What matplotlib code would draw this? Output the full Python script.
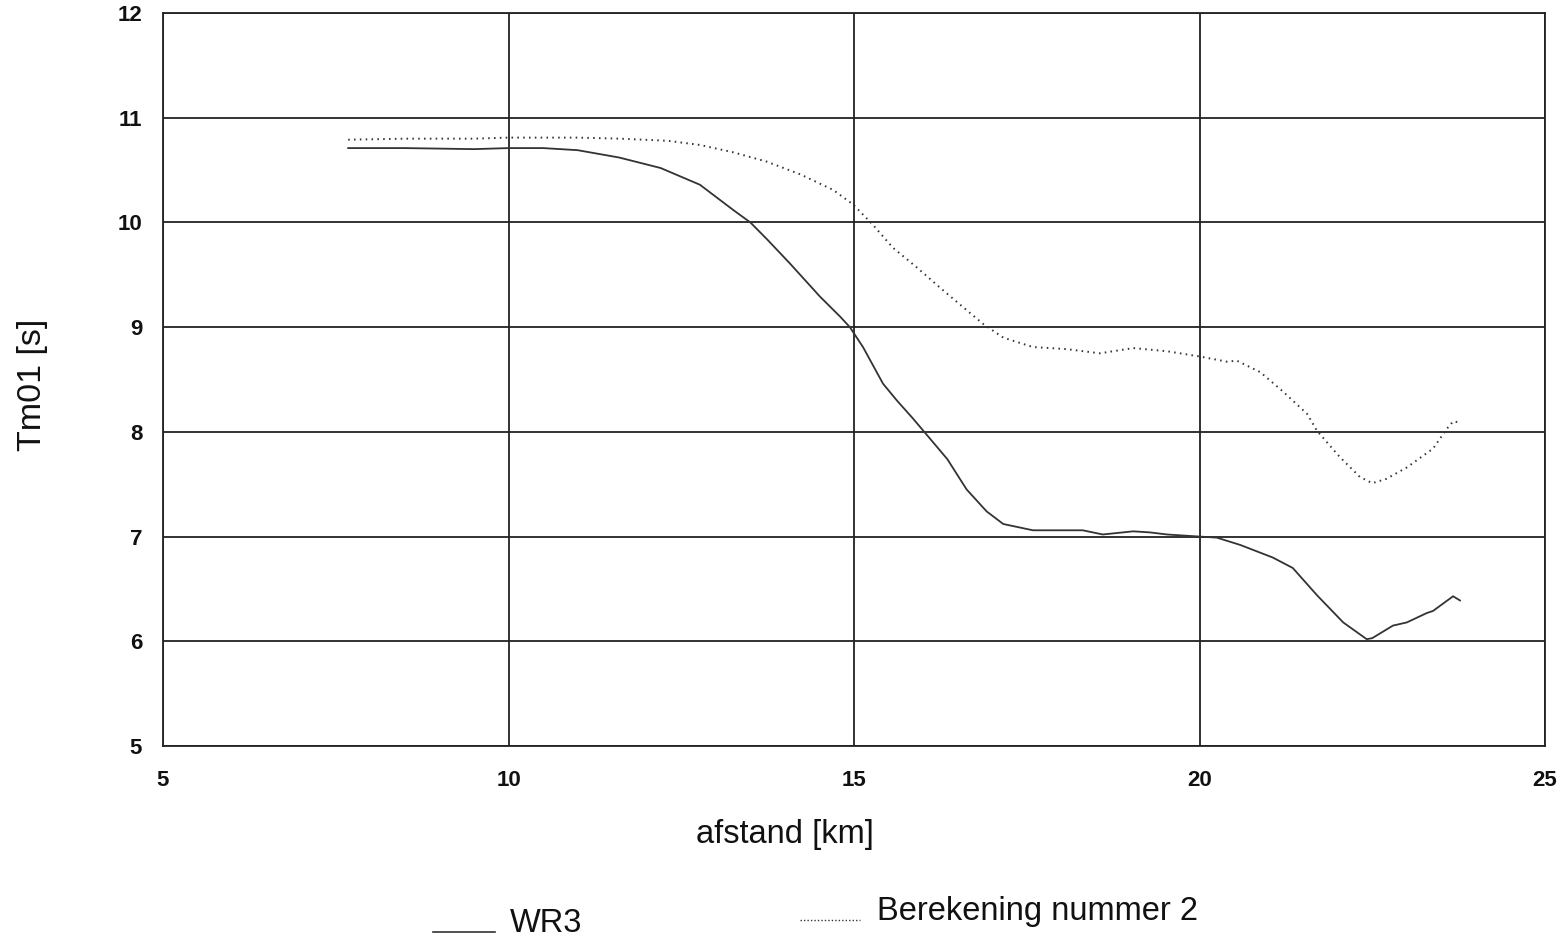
import matplotlib
matplotlib.use("Agg")
import matplotlib.pyplot as plt
from matplotlib.lines import Line2D

plt.rcParams['font.family'] = ['Liberation Sans', 'DejaVu Sans']

# Wave period Tm01 along the transect
x_wr3 = [7.68, 8.5, 9.5, 10.0, 10.5, 11.0, 11.6, 12.2, 12.77, 13.25, 13.5,
         13.74, 14.07, 14.51, 14.8, 14.94, 15.13, 15.42, 15.62, 15.85, 16.35,
         16.63, 16.92, 17.16, 17.59, 18.08, 18.31, 18.6, 19.04, 19.28, 19.53,
         20.0, 20.25, 20.59, 21.06, 21.35, 21.7, 22.08, 22.42, 22.5, 22.8, 23.0,
         23.29, 23.38, 23.67, 23.77]
y_wr3 = [10.71, 10.71, 10.70, 10.71, 10.71, 10.69, 10.62, 10.52, 10.36, 10.12,
         10.00, 9.84, 9.61, 9.29, 9.10, 9.00, 8.81, 8.46, 8.30, 8.13, 7.74, 7.45,
         7.24, 7.12, 7.06, 7.06, 7.06, 7.02, 7.05, 7.04, 7.02, 7.00, 6.99, 6.92,
         6.80, 6.70, 6.44, 6.18, 6.02, 6.03, 6.15, 6.18, 6.27, 6.29, 6.43, 6.39]

x_ber2 = [7.68, 8.5, 9.5, 10.0, 11.0, 11.6, 12.3, 12.77, 13.25, 13.74, 14.22,
          14.7, 14.99, 15.27, 15.56, 15.91, 16.24, 16.58, 16.87, 17.16, 17.59,
          18.08, 18.56, 19.04, 19.53, 20.0, 20.4, 20.54, 20.88, 21.2, 21.56,
          21.7, 22.03, 22.32, 22.5, 22.7, 23.0, 23.38, 23.58, 23.67, 23.77]
y_ber2 = [10.79, 10.80, 10.80, 10.81, 10.81, 10.80, 10.78, 10.74, 10.67, 10.58,
          10.46, 10.31, 10.17, 9.98, 9.76, 9.57, 9.38, 9.19, 9.03, 8.90, 8.81,
          8.79, 8.75, 8.80, 8.77, 8.72, 8.67, 8.68, 8.57, 8.39, 8.17, 8.01, 7.76,
          7.57, 7.51, 7.55, 7.66, 7.84, 8.03, 8.10, 8.09]

x_ticks = [5, 10, 15, 20, 25]
y_ticks = [5, 6, 7, 8, 9, 10, 11, 12]

W, H = 1566, 939
fig = plt.figure(figsize=(W / 100, H / 100), dpi=100)
ax = fig.add_axes([163 / W, 1 - 746 / H, (1545 - 163) / W, (746 - 13) / H])

ink = '#222222'
ax.plot(x_wr3, y_wr3, color='#333333', lw=1.3, solid_joinstyle='round')
ax.plot(x_ber2, y_ber2, color='#333333', lw=1.4, linestyle=(0, (0.8, 2.2)))

ax.set_xlim(5, 25)
ax.set_ylim(5, 12)
ax.set_xticks(x_ticks)
ax.set_yticks(y_ticks)
ax.grid(True, color=ink, lw=1.3)
ax.set_axisbelow(True)
for s in ax.spines.values():
    s.set_color(ink)
    s.set_linewidth(1.3)
ax.tick_params(length=0, labelsize=16, colors='#111111')
ax.tick_params(axis='x', pad=17)
ax.tick_params(axis='y', pad=15)
for lab in ax.get_xticklabels() + ax.get_yticklabels():
    lab.set_fontweight('bold')

fig.text(785 / W, 1 - 835 / H, 'afstand [km]', ha='center', va='center',
         fontsize=23.5, color='#111111')
fig.text(32 / W, 1 - 385 / H, 'Tm01 [s]', ha='center', va='center',
         rotation=90, fontsize=24.5, color='#111111')

# legend drawn below the axis label
fig.add_artist(Line2D([433 / W, 495 / W], [1 - 932 / H, 1 - 932 / H],
                      color='#333333', lw=1.2))
fig.text(510 / W, 1 - 932 / H, 'WR3', ha='left', va='baseline',
         fontsize=23.5, color='#111111')
fig.add_artist(Line2D([800 / W, 860 / W], [1 - 920 / H, 1 - 920 / H],
                      color='#333333', lw=1.0, linestyle=(0, (1, 1.5))))
fig.text(877 / W, 1 - 920 / H, 'Berekening nummer 2', ha='left', va='baseline',
         fontsize=23.5, color='#111111')

fig.savefig('out.png', dpi=100, facecolor='white')
